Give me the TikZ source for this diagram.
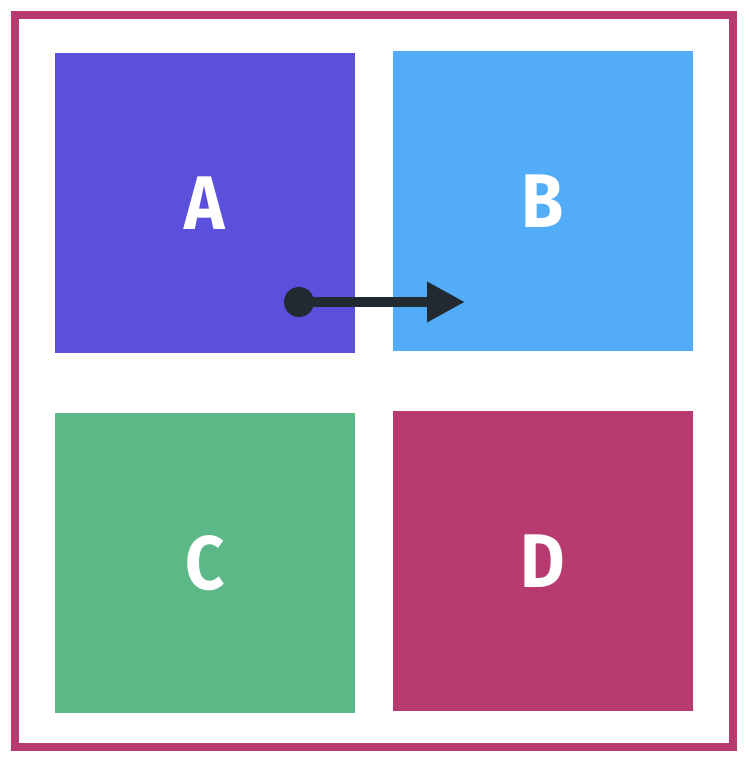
\documentclass[tikz,border=0pt]{standalone}
\usepackage{fontspec}
\newfontfamily\lblfont[FakeStretch=0.9]{Fira Sans}
\usetikzlibrary{arrows.meta}
\definecolor{cA}{HTML}{5A50DC}
\definecolor{cB}{HTML}{52ACF8}
\definecolor{cC}{HTML}{5CB887}
\definecolor{cD}{HTML}{B83B6F}
\definecolor{cArrow}{HTML}{212A30}
\tikzset{
  tile/.style={minimum width=300pt, minimum height=300pt, inner sep=0pt, draw=none},
  lbl/.style={font=\lblfont\fontsize{76}{76}\selectfont\bfseries, text=white, inner sep=0pt},
}
\begin{document}
\begin{tikzpicture}[x=1pt,y=-1pt]
\useasboundingbox (0,0) rectangle (748,769);
\draw[draw=cD, line width=8pt] (15,15) rectangle (733,747);
\node[tile, fill=cA] (A) at (205,203) {};
\node[tile, fill=cB] (B) at (543,201) {};
\node[tile, fill=cC] (C) at (205,563) {};
\node[tile, fill=cD] (D) at (543,561) {};
\foreach \n in {A,B,C,D}{
  \node[lbl] (\n lbl) at (\n.center) {\n};
}
\coordinate (start) at (299,302);
\coordinate (end) at (465,302);
\draw[cArrow, line width=10pt, -{Triangle[length=38pt,width=38pt]}] (start) -- (end);
\fill[cArrow] (start) circle (15pt);
\end{tikzpicture}
\end{document}
